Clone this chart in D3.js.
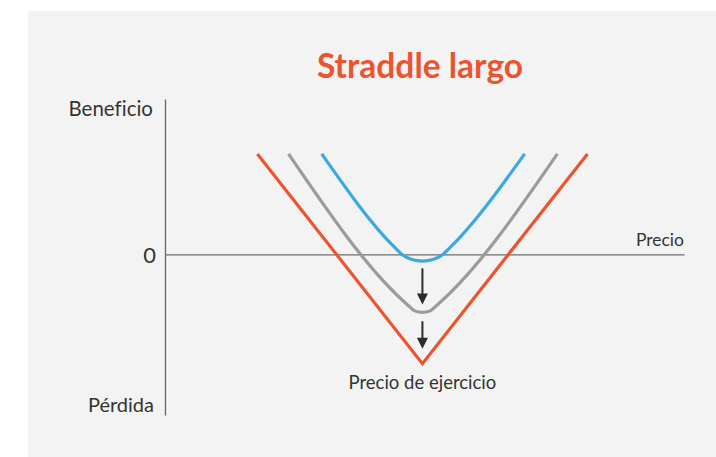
<!DOCTYPE html>
<html>
<head>
<meta charset="utf-8">
<script src="https://cdn.jsdelivr.net/npm/d3@7"></script>
<style>
  body { margin: 0; background: #fff; }
  svg text { font-family: Lato, "Open Sans", sans-serif; fill: #333; font-variant-ligatures: none; }
</style>
</head>
<body>
<div class="chart"></div>
<script>
// values (price units on x, profit units on y)
const title = "Straddle largo"
const yTopLabel = "Beneficio"
const yBottomLabel = "Pérdida"
const xLabel = "Precio"
const strikeLabel = "Precio de ejercicio"
const zeroTick = [0]

const strike = 49.6

// at expiry (red)
const redPrice  = [17.8, 49.6, 81.4]
const redProfit = [19.4, -21.1, 19.4]

// before expiry, later (gray)
const grayPrice  = [23.8, 46.8, 48.1, 49.6, 51.1, 52.4, 75.6]
const grayProfit = [19.4, -9.8, -10.9, -11.2, -10.9, -9.8, 19.4]

// before expiry, earlier (blue)
const bluePrice  = [30.2, 44.4, 45.6, 47.6, 49.6, 51.6, 53.6, 54.8, 69.3]
const blueProfit = [19.4, 1.2, 0.05, -1.0, -1.3, -1.0, 0.05, 1.2, 19.4]

// time decay arrows
const arrowFrom = [-2.7, -12.9]
const arrowTo   = [-9.65, -18.2]

const width = 716, height = 457

const svg = d3.select(".chart").append("svg")
    .attr("width", width)
    .attr("height", height)

svg.append("rect")
    .attr("x", 28).attr("y", 11)
    .attr("width", width - 28).attr("height", height - 11)
    .attr("fill", "#f3f3f3")

const x = d3.scaleLinear().domain([0, 100]).range([165, 684])
const y = d3.scaleLinear().domain([-31, 30]).range([415, 99])

// axes
const yAxis = d3.axisLeft(y)
    .tickValues(zeroTick)
    .tickSize(0)
    .tickSizeOuter(0)
    .tickPadding(9)
    .tickFormat(d3.format("d"))

const gy = svg.append("g")
    .attr("transform", `translate(${x(0)},0)`)
    .call(yAxis)
gy.select(".domain").attr("stroke", "#666").attr("stroke-width", 1.3)
gy.selectAll("text")
    .style("font-family", "Lato, sans-serif")
    .attr("font-size", 22)
    .attr("fill", "#333")
    .attr("dy", "0.36em")

const xAxis = d3.axisBottom(x).tickValues([]).tickSizeOuter(0)
const gx = svg.append("g")
    .attr("transform", `translate(0,${y(0)})`)
    .call(xAxis)
gx.select(".domain").attr("stroke", "#6e6e6e").attr("stroke-width", 1.2)

// labels
svg.append("text")
    .attr("x", 420).attr("y", 78)
    .attr("text-anchor", "middle")
    .attr("font-size", 33.5)
    .attr("font-weight", 700)
    .style("fill", "#ec5430")
    .text(title)

svg.append("text")
    .attr("x", x(0) - 12).attr("y", 115.5)
    .attr("text-anchor", "end")
    .attr("font-size", 20.5)
    .text(yTopLabel)

svg.append("text")
    .attr("x", x(0) - 11).attr("y", 411.5)
    .attr("text-anchor", "end")
    .attr("font-size", 20)
    .text(yBottomLabel)

svg.append("text")
    .attr("x", x.range()[1]).attr("y", y(0) - 8)
    .attr("text-anchor", "end")
    .attr("font-size", 17.5)
    .text(xLabel)

svg.append("text")
    .attr("x", x(strike)).attr("y", 389)
    .attr("text-anchor", "middle")
    .attr("font-size", 18.5)
    .text(strikeLabel)

// payoff curves
const series = [
    {name: "blue", price: bluePrice, profit: blueProfit, color: "#3ba8e0", curve: d3.curveMonotoneX},
    {name: "gray", price: grayPrice, profit: grayProfit, color: "#9b9b9b", curve: d3.curveMonotoneX},
    {name: "red",  price: redPrice,  profit: redProfit,  color: "#ec5430", curve: d3.curveLinear}
]

series.forEach(s => {
    const pts = s.price.map((p, i) => [p, s.profit[i]])
    const line = d3.line()
        .x(d => x(d[0]))
        .y(d => y(d[1]))
        .curve(s.curve)
    svg.append("path")
        .datum(pts)
        .attr("fill", "none")
        .attr("stroke", s.color)
        .attr("stroke-width", 3.2)
        .attr("stroke-linejoin", "miter")
        .attr("d", line)
})

// arrows
const headLen = 11, headHalf = 5.5
arrowFrom.forEach((f, i) => {
    const ax = x(strike)
    const y0 = y(f), y1 = y(arrowTo[i])
    svg.append("line")
        .attr("x1", ax).attr("x2", ax)
        .attr("y1", y0).attr("y2", y1 - headLen + 1)
        .attr("stroke", "#2b2b2b")
        .attr("stroke-width", 2)
    svg.append("path")
        .attr("d", `M${ax - headHalf},${y1 - headLen}L${ax + headHalf},${y1 - headLen}L${ax},${y1}Z`)
        .attr("fill", "#2b2b2b")
})
</script>
</body>
</html>
